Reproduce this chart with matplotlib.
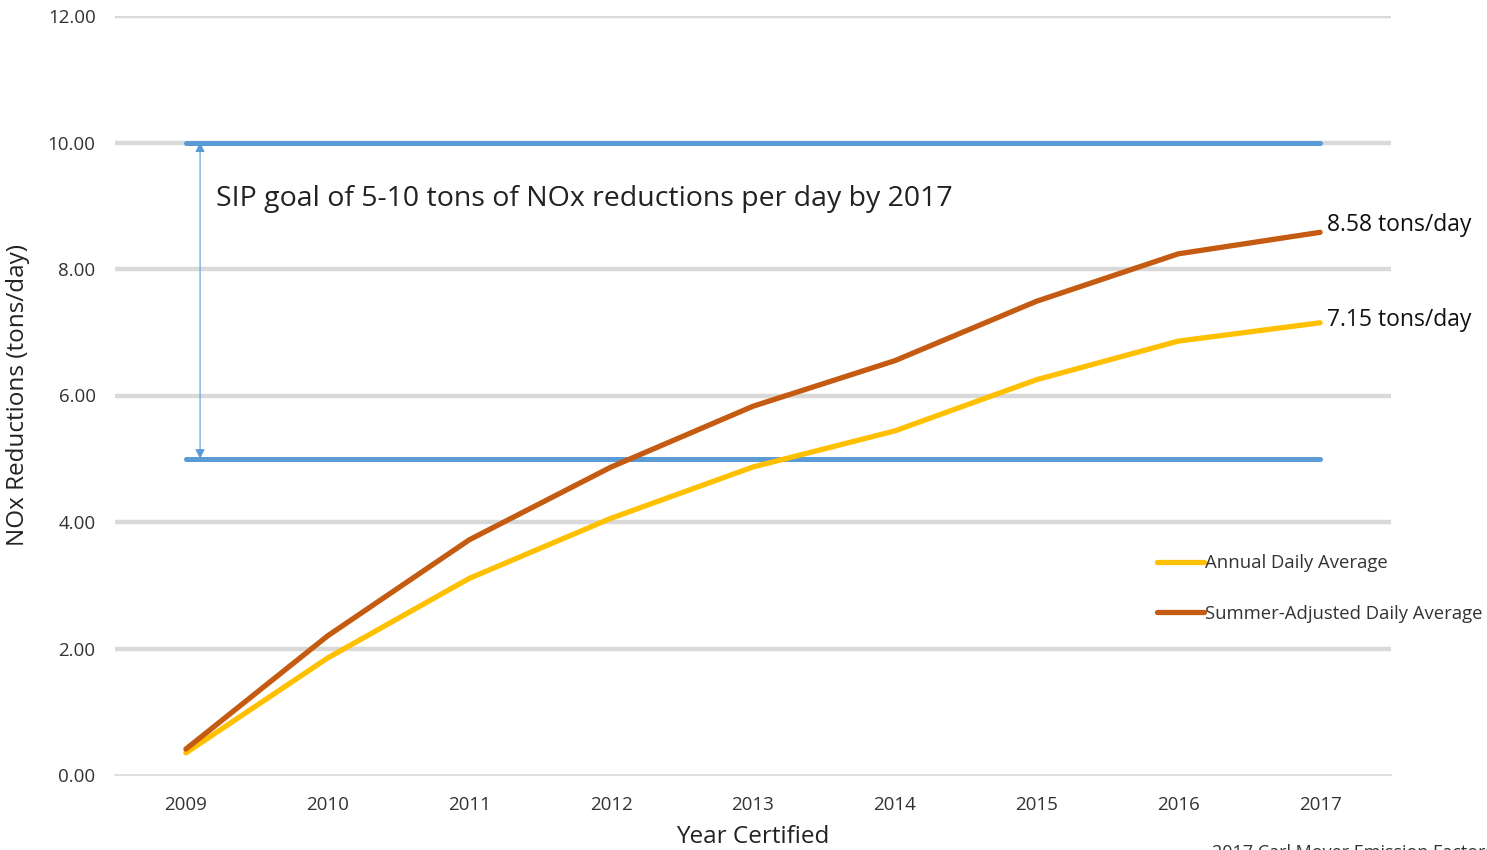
import matplotlib.pyplot as plt

plt.rcParams['font.family'] = ['Open Sans', 'DejaVu Sans']

years = ['2009', '2010', '2011', '2012', '2013', '2014', '2015', '2016', '2017']
annual = [0.35, 1.85, 3.11, 4.06, 4.87, 5.44, 6.25, 6.86, 7.15]
summer = [0.41, 2.20, 3.72, 4.87, 5.83, 6.55, 7.49, 8.24, 8.58]
goal_low = 5
goal_high = 10
yticks = [0, 2, 4, 6, 8, 10, 12]

fig = plt.figure(figsize=(14.87, 8.5), dpi=100)
ax = fig.add_axes([115 / 1487, 1 - 775 / 850, (1391 - 115) / 1487, (775 - 16) / 850])

x = list(range(len(years)))

# gridlines
for t in yticks[1:]:
    ax.axhline(t, color='#d9d9d9', lw=3.2, zorder=0)

# SIP goal band
ax.plot([x[0], x[-1]], [goal_low, goal_low], color='#5b9bd5', lw=3.6,
        solid_capstyle='round', zorder=2)
ax.plot([x[0], x[-1]], [goal_high, goal_high], color='#5b9bd5', lw=3.6,
        solid_capstyle='round', zorder=2)
ax.annotate('', xy=(0.1, goal_low), xytext=(0.1, goal_high),
            arrowprops=dict(arrowstyle='<|-|>', color='#5b9bd5', lw=0.8,
                            mutation_scale=14, shrinkA=0, shrinkB=0))
ax.text(0.21, 9.1, 'SIP goal of 5-10 tons of NOx reductions per day by 2017',
        fontsize=20.5, color='#222222', va='center', ha='left')

l1, = ax.plot(x, annual, color='#ffc000', lw=3.8, solid_capstyle='round',
              label='Annual Daily Average', zorder=3)
l2, = ax.plot(x, summer, color='#c55a11', lw=3.8, solid_capstyle='round',
              label='Summer-Adjusted Daily Average', zorder=4)

ax.text(x[-1] + 0.05, summer[-1] + 0.12, '%.2f tons/day' % summer[-1],
        fontsize=16.5, color='#111111', va='center', ha='left')
ax.text(x[-1] + 0.05, annual[-1] + 0.05, '%.2f tons/day' % annual[-1],
        fontsize=16.5, color='#111111', va='center', ha='left')

ax.legend(handles=[l1, l2], loc='upper left', bbox_to_anchor=(1150 / 1487, 1 - 547 / 850),
          bbox_transform=fig.transFigure, frameon=False, fontsize=13.3,
          handlelength=2.5, handletextpad=0.1, labelspacing=1.75, borderaxespad=0,
          labelcolor='#333333')

ax.set_xlim(-0.5, len(years) - 0.5)
ax.set_ylim(0, 12)
ax.set_xticks(x)
ax.set_xticklabels(years)
ax.set_yticks(yticks)
ax.set_yticklabels(['%.2f' % t for t in yticks])
ax.tick_params(length=0, labelsize=13.5, labelcolor='#333333')
ax.tick_params(axis='y', pad=14)
ax.tick_params(axis='x', pad=15)

for s in ['top', 'right', 'left']:
    ax.spines[s].set_visible(False)
ax.spines['bottom'].set_color('#d9d9d9')
ax.spines['bottom'].set_linewidth(1.2)

ax.set_ylabel('NOx Reductions (tons/day)', fontsize=17.5, color='#222222', labelpad=13)
ax.set_xlabel('Year Certified', fontsize=17.5, color='#222222', labelpad=8)

fig.text(1212 / 1487, 1 - 853 / 850, '2017 Carl Moyer Emission Factors',
         fontsize=13, color='#333333', ha='left', va='center')

fig.savefig('out.png', dpi=100)
